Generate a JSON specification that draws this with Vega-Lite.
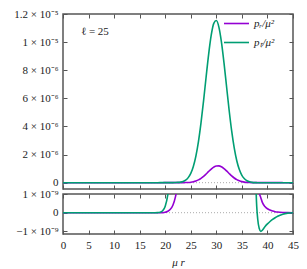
{
  "$schema": "https://vega.github.io/schema/vega-lite/v6.json",
  "padding": {"left": 5, "top": 7, "right": 5, "bottom": 5},
  "spacing": 5,
  "bounds": "flush",
  "datasets": {
    "d": [
      {"x":0,"pr":0,"pT":0},
      {"x":5,"pr":0,"pT":0},
      {"x":10,"pr":0,"pT":0},
      {"x":15,"pr":0,"pT":0},
      {"x":18,"pr":0,"pT":0},
      {"x":18.5,"pr":0,"pT":5e-12},
      {"x":19,"pr":0,"pT":2e-11},
      {"x":19.5,"pr":0,"pT":1e-10},
      {"x":20,"pr":2e-11,"pT":3.5e-10},
      {"x":20.5,"pr":8e-11,"pT":9.5e-10},
      {"x":21,"pr":1.8e-10,"pT":2.2e-9},
      {"x":21.5,"pr":4e-10,"pT":4.5e-9},
      {"x":22,"pr":8.5e-10,"pT":9e-9},
      {"x":22.5,"pr":1.6e-9,"pT":1.9e-8},
      {"x":23,"pr":2.9e-9,"pT":4e-8},
      {"x":23.5,"pr":5e-9,"pT":8.8e-8},
      {"x":24,"pr":8.4e-9,"pT":1.83e-7},
      {"x":24.5,"pr":1.79e-8,"pT":3.6e-7},
      {"x":25,"pr":3.6e-8,"pT":6.6e-7},
      {"x":25.5,"pr":6.7e-8,"pT":1.15e-6},
      {"x":26,"pr":1.19e-7,"pT":1.89e-6},
      {"x":26.5,"pr":1.97e-7,"pT":2.92e-6},
      {"x":27,"pr":3.08e-7,"pT":4.25e-6},
      {"x":27.5,"pr":4.5e-7,"pT":5.82e-6},
      {"x":28,"pr":6.2e-7,"pT":7.52e-6},
      {"x":28.5,"pr":8.0e-7,"pT":9.15e-6},
      {"x":29,"pr":9.7e-7,"pT":1.049e-5},
      {"x":29.5,"pr":1.108e-6,"pT":1.133e-5},
      {"x":30,"pr":1.187e-6,"pT":1.154e-5},
      {"x":30.5,"pr":1.194e-6,"pT":1.107e-5},
      {"x":31,"pr":1.129e-6,"pT":1.0e-5},
      {"x":31.5,"pr":1.002e-6,"pT":8.52e-6},
      {"x":32,"pr":8.36e-7,"pT":6.84e-6},
      {"x":32.5,"pr":6.55e-7,"pT":5.17e-6},
      {"x":33,"pr":4.82e-7,"pT":3.68e-6},
      {"x":33.5,"pr":3.34e-7,"pT":2.47e-6},
      {"x":34,"pr":2.17e-7,"pT":1.56e-6},
      {"x":34.5,"pr":1.32e-7,"pT":9.3e-7},
      {"x":35,"pr":7.6e-8,"pT":5.2e-7},
      {"x":35.5,"pr":4.1e-8,"pT":2.77e-7},
      {"x":36,"pr":2.07e-8,"pT":1.38e-7},
      {"x":36.5,"pr":1.1e-8,"pT":6e-8},
      {"x":37,"pr":6e-9,"pT":2.3e-8},
      {"x":37.5,"pr":3.6e-9,"pT":5e-9},
      {"x":37.8,"pr":2.3e-9,"pT":1e-9},
      {"x":38.1,"pr":1.5e-9,"pT":-3.5e-10},
      {"x":38.4,"pr":1.05e-9,"pT":-8.5e-10},
      {"x":38.7,"pr":8e-10,"pT":-1e-9},
      {"x":39,"pr":5.5e-10,"pT":-9.4e-10},
      {"x":39.5,"pr":3.3e-10,"pT":-7.5e-10},
      {"x":40,"pr":2.1e-10,"pT":-6e-10},
      {"x":40.5,"pr":1.4e-10,"pT":-4.7e-10},
      {"x":41,"pr":9e-11,"pT":-3.6e-10},
      {"x":41.5,"pr":5.5e-11,"pT":-2.7e-10},
      {"x":42,"pr":3.5e-11,"pT":-1.9e-10},
      {"x":43,"pr":1.2e-11,"pT":-8e-11},
      {"x":44,"pr":3e-12,"pT":-2.5e-11},
      {"x":45,"pr":0,"pT":-5e-12}
    ]
  },
  "config": {
    "font": "Liberation Serif",
    "view": {"stroke": "#555555", "strokeWidth": 1.5},
    "axis": {
      "domain": false, "grid": false, "tickColor": "#555555", "tickWidth": 1, "tickSize": -4,
      "labelFont": "Liberation Serif", "labelFontSize": 11, "labelColor": "#222222",
      "labelOverlap": false, "labelFlush": false, "labelBound": false, "labelPadding": 9
    }
  },
  "resolve": {"scale": {"color": "independent"}, "legend": {"color": "independent"}},
  "vconcat": [
    {
      "width": 230, "height": 175,
      "resolve": {"axis": {"x": "independent", "y": "independent"}},
      "layer": [
        {
          "data": {"values": [{}]},
          "mark": {"type": "rule", "color": "#aaaaaa", "strokeDash": [1, 2], "strokeWidth": 1},
          "encoding": {
            "y": {"datum": 0, "type": "quantitative", "scale": {"domain": [-4.5e-7, 1.2e-5], "nice": false, "zero": false},
                  "axis": {"orient": "right", "labels": false, "title": null, "values": [0, 2e-6, 4e-6, 6e-6, 8e-6, 1e-5, 1.2e-5], "minExtent": 0, "maxExtent": 0}}
          }
        },
        {
          "data": {"values": [{}]},
          "mark": {"type": "text", "align": "left", "baseline": "middle", "fontSize": 11, "font": "Liberation Serif", "color": "#222222", "text": "ℓ = 25"},
          "encoding": {
            "x": {"datum": 3.5, "type": "quantitative", "scale": {"domain": [0, 45], "nice": false, "zero": false},
                  "axis": {"orient": "top", "labels": false, "title": null, "values": [0,5,10,15,20,25,30,35,40,45], "minExtent": 0, "maxExtent": 0}},
            "y": {"datum": 1.07e-5, "type": "quantitative", "axis": null}
          }
        },
        {
          "data": {"name": "d"},
          "transform": [{"fold": ["pr", "pT"], "as": ["s", "v"]}],
          "mark": {"type": "line", "strokeWidth": 1.6, "interpolate": "monotone"},
          "encoding": {
            "x": {"field": "x", "type": "quantitative", "scale": {"domain": [0, 45], "nice": false, "zero": false},
                  "axis": {"orient": "bottom", "labels": false, "title": null, "values": [0,5,10,15,20,25,30,35,40,45], "minExtent": 0, "maxExtent": 0}},
            "y": {"field": "v", "type": "quantitative", "scale": {"domain": [-4.5e-7, 1.2e-5], "nice": false, "zero": false},
                  "axis": {"orient": "left", "title": null, "values": [0, 2e-6, 4e-6, 6e-6, 8e-6, 1e-5, 1.2e-5], "minExtent": 57, "maxExtent": 57,
                           "labelExpr": "datum.value == 0 ? '0' : datum.value < 9e-6 ? format(datum.value * 1e6, 'd') + ' × 10⁻⁶' : format(datum.value * 1e5, '.2~f') + ' × 10⁻⁵'"}},
            "color": {"field": "s", "type": "nominal", "scale": {"domain": ["pr", "pT"], "range": ["#9400D3", "#009E73"]},
                      "legend": {"orient": "none", "legendX": 160, "legendY": -4, "title": null, "symbolType": "stroke", "symbolSize": 625, "symbolStrokeWidth": 1.6,
                                 "labelFont": "Liberation Serif", "labelFontStyle": "italic", "labelFontSize": 11, "labelColor": "#222222", "labelOffset": 4,
                                 "rowPadding": -26, "padding": 0,
                                 "labelExpr": "datum.label == 'pr' ? 'pᵣ/μ²' : 'pₜ/μ²'"}}
          }
        }
      ]
    },
    {
      "width": 230, "height": 40,
      "resolve": {"axis": {"x": "independent", "y": "independent"}},
      "layer": [
        {
          "data": {"values": [{}]},
          "mark": {"type": "rule", "color": "#aaaaaa", "strokeDash": [1, 2], "strokeWidth": 1},
          "encoding": {
            "y": {"datum": 0, "type": "quantitative", "scale": {"domain": [-1.14e-9, 1e-9], "nice": false, "zero": false},
                  "axis": {"orient": "right", "labels": false, "title": null, "values": [-1e-9, 0, 1e-9], "minExtent": 0, "maxExtent": 0}}
          }
        },
        {
          "data": {"values": [{}]},
          "mark": {"type": "rule", "opacity": 0},
          "encoding": {
            "x": {"datum": 0, "type": "quantitative", "scale": {"domain": [0, 45], "nice": false, "zero": false},
                  "axis": {"orient": "top", "labels": false, "title": null, "values": [0,5,10,15,20,25,30,35,40,45], "minExtent": 0, "maxExtent": 0}}
          }
        },
        {
          "data": {"name": "d"},
          "transform": [{"fold": ["pr", "pT"], "as": ["s", "v"]}],
          "mark": {"type": "line", "strokeWidth": 1.6, "interpolate": "monotone", "clip": true},
          "encoding": {
            "x": {"field": "x", "type": "quantitative", "scale": {"domain": [0, 45], "nice": false, "zero": false},
                  "axis": {"orient": "bottom", "title": "μ r", "titleFont": "Liberation Serif", "titleFontStyle": "italic", "titleFontWeight": "normal", "titleFontSize": 11, "titleColor": "#222222", "titlePadding": 6,
                           "values": [0,5,10,15,20,25,30,35,40,45]}},
            "y": {"field": "v", "type": "quantitative", "scale": {"domain": [-1.14e-9, 1e-9], "nice": false, "zero": false},
                  "axis": {"orient": "left", "title": null, "values": [-1e-9, 0, 1e-9], "minExtent": 57, "maxExtent": 57,
                           "labelExpr": "datum.value == 0 ? '0' : datum.value > 0 ? '1 × 10⁻⁹' : '−1 × 10⁻⁹'"}},
            "color": {"field": "s", "type": "nominal", "scale": {"domain": ["pr", "pT"], "range": ["#9400D3", "#009E73"]}, "legend": null}
          }
        }
      ]
    }
  ]
}
